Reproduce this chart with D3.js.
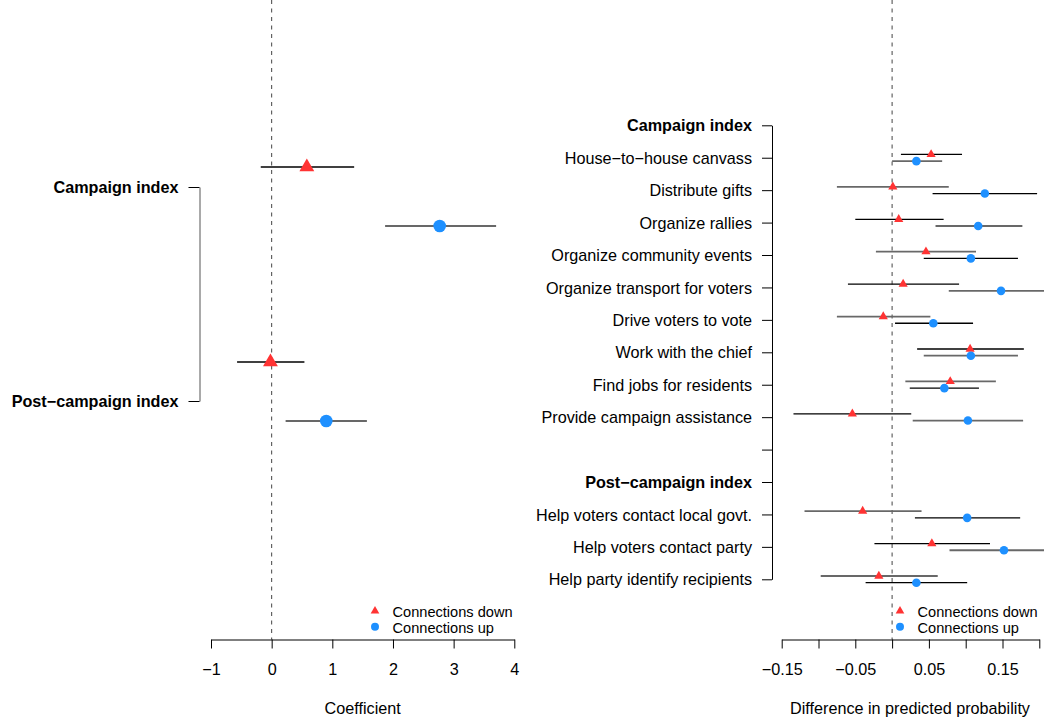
<!DOCTYPE html>
<html>
<head>
<meta charset="utf-8">
<script src="https://cdn.jsdelivr.net/npm/d3@7"></script>
<style>
  html, body { margin: 0; padding: 0; background: #ffffff; }
  svg { display: block; font-family: "Liberation Sans", Arial, Helvetica, sans-serif; }
</style>
</head>
<body>
<script>
// ---- Left panel: index coefficients ----
const leftGroups = ["Campaign index", "Post\u2212campaign index"];
const leftDownEst = [0.58, -0.02];
const leftDownLo  = [-0.18, -0.57];
const leftDownHi  = [1.36, 0.54];
const leftUpEst   = [2.77, 0.90];
const leftUpLo    = [1.87, 0.23];
const leftUpHi    = [3.70, 1.57];
const leftTicks   = [-1, 0, 1, 2, 3, 4];

// ---- Right panel: item-level differences in predicted probability ----
const rightRows = [
  "Campaign index",
  "House\u2212to\u2212house canvass",
  "Distribute gifts",
  "Organize rallies",
  "Organize community events",
  "Organize transport for voters",
  "Drive voters to vote",
  "Work with the chief",
  "Find jobs for residents",
  "Provide campaign assistance",
  "",
  "Post\u2212campaign index",
  "Help voters contact local govt.",
  "Help voters contact party",
  "Help party identify recipients"
];
const headerRows = ["Campaign index", "Post\u2212campaign index"];
const items = [
  "House\u2212to\u2212house canvass",
  "Distribute gifts",
  "Organize rallies",
  "Organize community events",
  "Organize transport for voters",
  "Drive voters to vote",
  "Work with the chief",
  "Find jobs for residents",
  "Provide campaign assistance",
  "Help voters contact local govt.",
  "Help voters contact party",
  "Help party identify recipients"
];
const downEst = [0.053, 0.001, 0.009, 0.046, 0.015, -0.012, 0.106, 0.079, -0.054, -0.040, 0.054, -0.018];
const downLo  = [0.012, -0.075, -0.050, -0.022, -0.060, -0.075, 0.034, 0.018, -0.134, -0.119, -0.024, -0.097];
const downHi  = [0.095, 0.077, 0.070, 0.114, 0.091, 0.052, 0.179, 0.141, 0.026, 0.040, 0.133, 0.062];
const upEst   = [0.033, 0.126, 0.117, 0.107, 0.148, 0.056, 0.107, 0.071, 0.103, 0.102, 0.152, 0.033];
const upLo    = [0.000, 0.055, 0.059, 0.043, 0.077, 0.004, 0.043, 0.024, 0.028, 0.031, 0.078, -0.036];
const upHi    = [0.068, 0.197, 0.177, 0.171, 0.215, 0.110, 0.171, 0.118, 0.178, 0.174, 0.215, 0.102];
const rightTicks = [-0.15, -0.10, -0.05, 0, 0.05, 0.10, 0.15, 0.20];
const rightTickLabels = [-0.15, -0.05, 0.05, 0.15];

const legendLabels = ["Connections down", "Connections up"];

// ---- Styling ----
const RED = "#FF3333";
const BLUE = "#1E90FF";
const DARK = "#000000";
const GREY = "#686868";
const W = 1044, H = 719;
const axisY = 639.5;
const LABEL_SIZE = 16.2;

const svg = d3.select("body").append("svg")
  .attr("width", W).attr("height", H)
  .attr("viewBox", `0 0 ${W} ${H}`);
svg.append("rect").attr("width", W).attr("height", H).attr("fill", "#ffffff");

const tri = r => d3.symbol().type(d3.symbolTriangle).size(1.299 * r * r)();
const fmt = d3.format("");

function styleAxisText(g, size, weight) {
  g.attr("font-family", null).attr("font-size", null);
  g.selectAll("text")
    .attr("fill", "#000")
    .style("font-size", size + "px")
    .style("font-weight", weight || "normal");
}

// ================= LEFT PANEL =================
const xL = d3.scaleLinear().domain([-1, 4]).range([211, 514.3]);
const yLeftLabel = d3.scalePoint().domain(leftGroups).range([187, 401]);
const yLeftMark = d3.scalePoint().domain(leftGroups).range([196.5, 391.5]);
const leftOffset = { down: -29.5, up: 29.5 };

// reference line at zero
svg.append("line")
  .attr("x1", xL(0)).attr("x2", xL(0))
  .attr("y1", 0).attr("y2", axisY)
  .attr("stroke", "#444").attr("stroke-width", 1)
  .attr("stroke-dasharray", "4,4.5");

// group axis (bracket)
const gLY = svg.append("g")
  .attr("transform", "translate(199.5,0)")
  .call(d3.axisLeft(yLeftLabel).tickSize(11).tickSizeOuter(0).tickPadding(10));
gLY.attr("color", "#000");
gLY.select(".domain").attr("stroke", "#555");
styleAxisText(gLY, LABEL_SIZE, "bold");
gLY.selectAll("text").attr("dy", "0.35em");

// confidence intervals and point estimates
const leftRowsData = leftGroups.map((g, i) => ({
  g,
  down: { est: leftDownEst[i], lo: leftDownLo[i], hi: leftDownHi[i] },
  up: { est: leftUpEst[i], lo: leftUpLo[i], hi: leftUpHi[i] }
}));

const gL = svg.append("g");
leftRowsData.forEach(d => {
  const yd = yLeftMark(d.g) + leftOffset.down;
  const yu = yLeftMark(d.g) + leftOffset.up;
  gL.append("line")
    .attr("x1", xL(d.down.lo)).attr("x2", xL(d.down.hi))
    .attr("y1", yd).attr("y2", yd)
    .attr("stroke", DARK).attr("stroke-width", 1.3);
  gL.append("line")
    .attr("x1", xL(d.up.lo)).attr("x2", xL(d.up.hi))
    .attr("y1", yu).attr("y2", yu)
    .attr("stroke", GREY).attr("stroke-width", 1.8);
  gL.append("path")
    .attr("d", tri(8.6))
    .attr("transform", `translate(${xL(d.down.est)},${yd})`)
    .attr("fill", RED);
  gL.append("circle")
    .attr("cx", xL(d.up.est)).attr("cy", yu).attr("r", 6.3)
    .attr("fill", BLUE);
});

// x axis
const gLX = svg.append("g")
  .attr("transform", `translate(0,${axisY})`)
  .call(d3.axisBottom(xL).tickValues(leftTicks).tickSize(9).tickSizeOuter(0).tickFormat(fmt));
gLX.attr("color", "#000");
styleAxisText(gLX, LABEL_SIZE);
gLX.selectAll("text").attr("y", 29.5).attr("dy", "0.35em");

svg.append("text")
  .attr("x", (xL(-1) + xL(4)) / 2).attr("y", 708).attr("dy", "0.35em")
  .attr("text-anchor", "middle")
  .style("font-size", LABEL_SIZE + "px")
  .text("Coefficient");

// ================= RIGHT PANEL =================
const xR = d3.scaleLinear().domain([-0.15, 0.20]).range([781.7, 1039.3]);
const yR = d3.scalePoint().domain(rightRows).range([125.3, 579.3]);
const rightOffset = { down: -3.3, up: 3.4 };

svg.append("line")
  .attr("x1", xR(0)).attr("x2", xR(0))
  .attr("y1", 0).attr("y2", axisY)
  .attr("stroke", "#444").attr("stroke-width", 1)
  .attr("stroke-dasharray", "4,4.5");

const gRY = svg.append("g")
  .attr("transform", "translate(772,0)")
  .call(d3.axisLeft(yR).tickSize(10).tickSizeOuter(0).tickPadding(10));
gRY.attr("color", "#000");
styleAxisText(gRY, LABEL_SIZE);
gRY.selectAll("text")
  .attr("dy", "0.35em")
  .style("font-weight", d => headerRows.includes(d) ? "bold" : "normal");

const gR = svg.append("g");
items.forEach((name, i) => {
  const yd = yR(name) + rightOffset.down;
  const yu = yR(name) + rightOffset.up;
  const downDark = i % 2 === 0;
  gR.append("line")
    .attr("x1", xR(downLo[i])).attr("x2", xR(downHi[i]))
    .attr("y1", yd).attr("y2", yd)
    .attr("stroke", downDark ? DARK : GREY)
    .attr("stroke-width", downDark ? 1.3 : 1.8);
  gR.append("line")
    .attr("x1", xR(upLo[i])).attr("x2", xR(upHi[i]))
    .attr("y1", yu).attr("y2", yu)
    .attr("stroke", downDark ? GREY : DARK)
    .attr("stroke-width", downDark ? 1.8 : 1.3);
});
items.forEach((name, i) => {
  const yd = yR(name) + rightOffset.down;
  const yu = yR(name) + rightOffset.up;
  gR.append("path")
    .attr("d", tri(5.3))
    .attr("transform", `translate(${xR(downEst[i])},${yd})`)
    .attr("fill", RED);
  gR.append("circle")
    .attr("cx", xR(upEst[i])).attr("cy", yu).attr("r", 4.3)
    .attr("fill", BLUE);
});

const gRX = svg.append("g")
  .attr("transform", `translate(0,${axisY})`)
  .call(d3.axisBottom(xR).tickValues(rightTicks).tickSize(9).tickSizeOuter(0)
    .tickFormat(v => rightTickLabels.some(t => Math.abs(t - v) < 1e-9) ? d3.format(".2f")(v) : ""));
gRX.attr("color", "#000");
styleAxisText(gRX, LABEL_SIZE);
gRX.selectAll("text").attr("y", 29.5).attr("dy", "0.35em");

svg.append("text")
  .attr("x", 910).attr("y", 708).attr("dy", "0.35em")
  .attr("text-anchor", "middle")
  .style("font-size", LABEL_SIZE + "px")
  .text("Difference in predicted probability");

// ================= LEGENDS =================
function legend(x, yTop) {
  const g = svg.append("g").attr("transform", `translate(${x},0)`);
  g.append("path").attr("d", tri(5)).attr("transform", `translate(0,${yTop})`).attr("fill", RED);
  g.append("circle").attr("cx", 0).attr("cy", yTop + 15.7).attr("r", 4).attr("fill", BLUE);
  legendLabels.forEach((t, i) => {
    g.append("text")
      .attr("x", 17.5).attr("y", yTop + 1 + i * 15.7).attr("dy", "0.35em")
      .style("font-size", "14.6px")
      .text(t);
  });
}
legend(375, 611);
legend(900, 611);
</script>
</body>
</html>
